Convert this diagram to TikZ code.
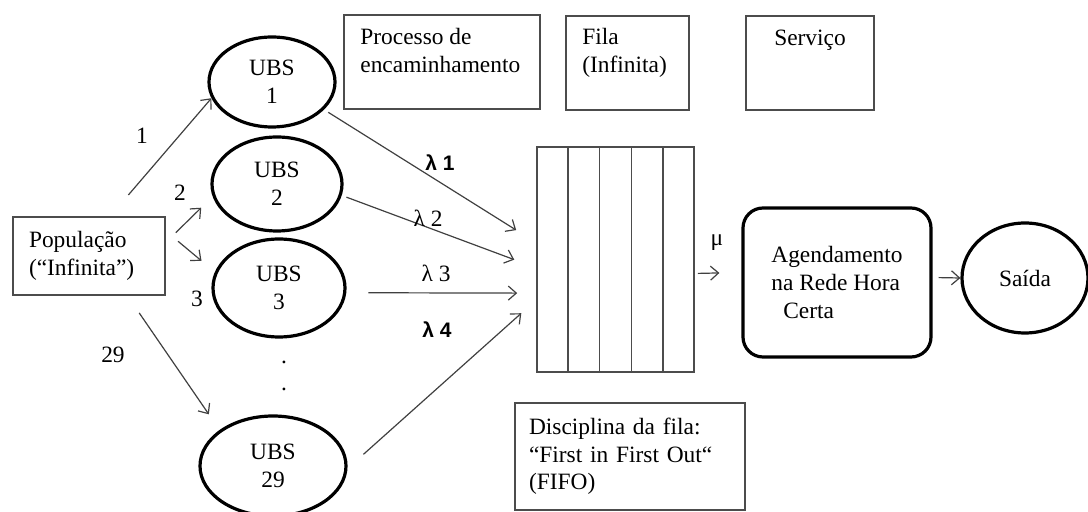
\documentclass[tikz,border=0pt]{standalone}
\usepackage{fontspec}
\setmainfont{Liberation Serif}
\newfontfamily\lamfont{Liberation Sans}
\usetikzlibrary{shapes.geometric,arrows.meta,calc}

\begin{document}
\begin{tikzpicture}
[x=0.5pt, y=-0.5pt, font=\fontsize{11.7}{13.8}\selectfont,
>={Straight Barb[length=4pt,width=7pt]},
box/.style={rectangle, draw=black!70, line width=0.8pt, inner sep=0pt},
ubs/.style={ellipse, draw, line width=1.6pt, inner sep=0pt, align=center},
flow/.style={->, draw=black!75, line width=0.6pt},
boxtxt/.style={anchor=north west, align=left, inner sep=0pt},
lam/.style={font=\lamfont\bfseries\fontsize{10.5}{12}\selectfont},
lamr/.style={font=\fontsize{11.7}{13.8}\selectfont}]

\useasboundingbox (0,0) rectangle (1088,512);

% population and units
\node[box, minimum width=76pt, minimum height=39pt, align=left, text width=60pt] (pop) at (89,256) {População\\(“Infinita”)};

\node[ubs, minimum width=63pt, minimum height=45pt] (ubs1) at (272,82) {UBS\\1};
\node[ubs, minimum width=65pt, minimum height=47pt] (ubs2) at (277,184) {UBS\\2};
\node[ubs, minimum width=66pt, minimum height=49pt] (ubs3) at (279,288) {UBS\\3};
\node[ubs, minimum width=73pt, minimum height=50pt] (ubs29) at (273,466) {UBS\\29};

\node (dot1) at (284,362) {.};
\node (dot2) at (284,389) {.};

% top captions
\node[box, minimum width=98pt, minimum height=47pt] (proc) at (442,62) {};
\node[boxtxt] (proctxt) at (360,28) {Processo de\\encaminhamento};
\node[box, minimum width=61.5pt, minimum height=47pt] (fila) at (627.5,63) {};
\node[boxtxt] (filatxt) at (582,28) {Fila\\(Infinita)};
\node[box, minimum width=64pt, minimum height=47pt] (serv) at (810,63) {};
\node[anchor=north, inner sep=0pt] (servtxt) at (810,30) {Serviço};

% queue
\node[box, minimum width=78.5pt, minimum height=112.5pt] (queue) at (615.5,259.5) {};
\foreach \k in {1,...,4}
  \draw[draw=black!70, line width=0.8pt] ($(queue.north west)!\k/5!(queue.north east)$) -- ($(queue.south west)!\k/5!(queue.south east)$);

\node[box, minimum width=115pt, minimum height=53.5pt, align=left, text width=101pt] (disc) at (630,456.5) {Disciplina da fila:\\“First in First Out“\\(FIFO)};

% service and exit
\node[box, rounded corners=10pt, draw=black, line width=1.6pt, minimum width=94pt, minimum height=74.5pt, align=left] (agenda) at (837,282.5) {Agendamento\\na Rede Hora\\\hspace*{6pt}Certa};
\node[ubs, minimum width=63pt, minimum height=55pt] (saida) at (1025,278) {Saída};

% arrivals
\draw[flow, shorten <=14pt] (pop.62) -- (ubs1.195);
\draw[flow, shorten <=7pt, shorten >=8pt] (pop.10) -- (ubs2.191);
\draw[flow, shorten <=8pt, shorten >=8.7pt] (pop.18) -- (ubs3.166);
\draw[flow, shorten <=10.4pt, shorten >=9.5pt] (pop.-46) -- (ubs29.146);

\node (n1) at (142,136) {1};
\node (n2) at (180,193) {2};
\node (n3) at (197,299) {3};
\node (n29) at (113,355) {29};

% into the queue
\draw[flow, shorten <=2.5pt, shorten >=11.8pt] (ubs1.-28) -- (queue.168);
\draw[flow, shorten <=2.5pt, shorten >=11.7pt] (ubs2.-10) -- (queue.186);
\draw[flow, shorten <=11pt, shorten >=9.5pt] (ubs3.-4) -- (queue.203);
\draw[flow, shorten <=10.7pt, shorten >=10pt] (ubs29.-2) -- (queue.207);

\node[lam] (lam1) at (440,163) {λ 1};
\node[lamr] (lam2) at (428,218) {λ 2};
\node[lamr] (lam3) at (436,273) {λ 3};
\node[lam] (lam4) at (437,330) {λ 4};

% service
\draw[flow, shorten <=1.5pt, shorten >=11pt] (queue.-10) -- (agenda.174);
\node (mu) at (717,243) {μ};
\draw[flow, shorten <=3pt] (agenda.3) -- (saida.west);
\end{tikzpicture}
\end{document}
